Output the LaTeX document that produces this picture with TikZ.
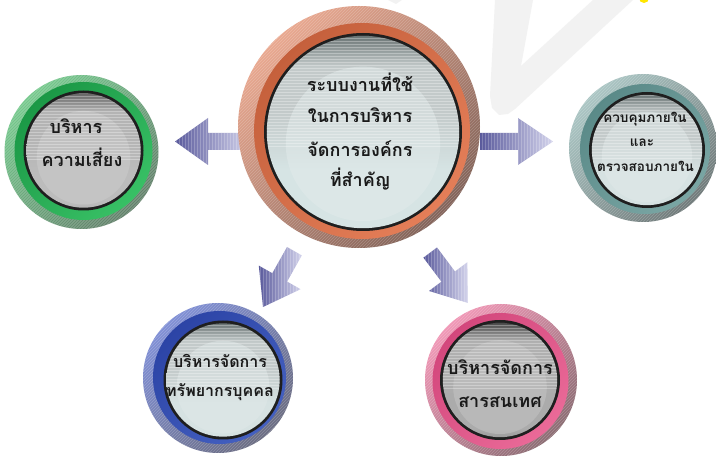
\documentclass[tikz,border=0pt]{standalone}
\usepackage{fontspec}
\newfontfamily\thaifont[Script=Thai]{Loma}
\usetikzlibrary{calc}

\definecolor{wm}{HTML}{F2F2F2}
\definecolor{yel}{HTML}{FFE600}
\definecolor{arD}{HTML}{5A5A9C}
\definecolor{arL}{HTML}{D4D4EC}
\definecolor{txt}{HTML}{1A1A1A}
% central (brown-orange)
\definecolor{cenol}{HTML}{E8A58C}\definecolor{cenom}{HTML}{D08A70}\definecolor{cenod}{HTML}{7E5E54}
\definecolor{cenml}{HTML}{E47E58}\definecolor{cenmd}{HTML}{C5603C}
\definecolor{cenia}{HTML}{6B7575}\definecolor{cenic}{HTML}{C3CACA}\definecolor{cenib}{HTML}{D6E4E4}\definecolor{cenih}{HTML}{E2EBEB}
% green
\definecolor{grnol}{HTML}{74C88C}\definecolor{grnom}{HTML}{52AA6A}\definecolor{grnod}{HTML}{62806A}
\definecolor{grnml}{HTML}{38C065}\definecolor{grnmd}{HTML}{1B9846}
\definecolor{grnia}{HTML}{666666}\definecolor{grnic}{HTML}{B4B4B4}\definecolor{grnib}{HTML}{BCBCBC}\definecolor{grnih}{HTML}{CDCDCD}
% teal
\definecolor{teaol}{HTML}{A8C4C2}\definecolor{teaom}{HTML}{88A6A4}\definecolor{teaod}{HTML}{6C7676}
\definecolor{teaml}{HTML}{7AA6A4}\definecolor{teamd}{HTML}{5A8A88}
\definecolor{teaia}{HTML}{6B7575}\definecolor{teaic}{HTML}{C3CACA}\definecolor{teaib}{HTML}{D6E2E2}\definecolor{teaih}{HTML}{E0E8E8}
% blue
\definecolor{bluol}{HTML}{7C8CD4}\definecolor{bluom}{HTML}{5C6EBE}\definecolor{bluod}{HTML}{66687E}
\definecolor{bluml}{HTML}{4460C0}\definecolor{blumd}{HTML}{2C44A6}
\definecolor{bluia}{HTML}{6B7575}\definecolor{bluic}{HTML}{C3CACA}\definecolor{bluib}{HTML}{D6E2E2}\definecolor{bluih}{HTML}{E0E8E8}
% pink
\definecolor{pnkol}{HTML}{F094B4}\definecolor{pnkom}{HTML}{E07098}\definecolor{pnkod}{HTML}{88686F}
\definecolor{pnkml}{HTML}{EA6A98}\definecolor{pnkmd}{HTML}{D3477C}
\definecolor{pnkia}{HTML}{4A4A4A}\definecolor{pnkic}{HTML}{B0B0B0}\definecolor{pnkib}{HTML}{ABABAB}\definecolor{pnkih}{HTML}{C6C6C6}

\pgfdeclareverticalshading{innercen}{100bp}{color(0bp)=(cenib); color(40bp)=(cenib); color(55bp)=(cenic); color(67bp)=(cenic); color(75bp)=(cenia); color(100bp)=(cenia)}
\pgfdeclareverticalshading{innergrn}{100bp}{color(0bp)=(grnia); color(27bp)=(grnib); color(40bp)=(grnib); color(55bp)=(grnic); color(67bp)=(grnic); color(75bp)=(grnia); color(100bp)=(grnia)}
\pgfdeclareverticalshading{innertea}{100bp}{color(0bp)=(teaib); color(40bp)=(teaib); color(55bp)=(teaic); color(67bp)=(teaic); color(75bp)=(teaia); color(100bp)=(teaia)}
\pgfdeclareverticalshading{innerblu}{100bp}{color(0bp)=(bluib); color(40bp)=(bluib); color(55bp)=(bluic); color(67bp)=(bluic); color(75bp)=(bluia); color(100bp)=(bluia)}
\pgfdeclareverticalshading{innerpnk}{100bp}{color(0bp)=(pnkia); color(29bp)=(pnkib); color(40bp)=(pnkib); color(55bp)=(pnkic); color(67bp)=(pnkic); color(75bp)=(pnkia); color(100bp)=(pnkia)}

\tikzset{
  hatch/.style={white, line width=0.8pt, draw opacity=0.2},
  stripe/.style={white, line width=1pt, draw opacity=0.3},
  astripe/.style={white, line width=0.8pt, draw opacity=0.22},
  lbl/.style={anchor=base, inner sep=0pt, text=txt, font=\thaifont\bfseries\fontsize{#1}{#1}\selectfont}
}

% #1 outer centre, #2 R, #3 ring centre, #4 ring R, #5 inner centre, #6 inner r, #7 colour prefix
\newcommand\btn[7]{%
  \shade[top color=#7ol, middle color=#7om, bottom color=#7od, shading angle=45] #1 circle[radius=#2];
  \begin{scope}
    \clip #1 circle[radius=#2];
    \foreach \i [evaluate=\i as \s using 3*\i-2*#2] in {0,...,165}
      \draw[hatch] ($#1+(\s-#2,-#2)$) -- ++(2*#2,2*#2);
  \end{scope}
  \shade[top color=#7md, middle color=#7md, bottom color=#7ml, shading angle=45] #3 circle[radius=#4];
  \fill[black!88] #5 circle[radius=#6];
  \begin{scope}
    \clip #5 circle[radius={#6-2.8}];
    \shade[shading=inner#7] #5 circle[radius={#6-2.8}];
    \fill[#7ih, fill opacity=0.5] ($#5+(0,{-0.12*#6})$) circle[radius={0.78*#6}];
    \foreach \i [evaluate=\i as \s using 3*\i-0.15*#6] in {0,...,40}
      \draw[stripe] ($#5+(-#6,\s)$) -- ++(2*#6,0);
  \end{scope}
}
\newcommand\blockarrow[1]{%
  \shade[left color=arD, right color=arL] #1 -- cycle;
  \begin{scope}
    \clip #1 -- cycle;
    \foreach \i in {0,...,50} \draw[astripe] (170+3*\i,150) -- ++(0,200);
    \foreach \i in {0,...,50} \draw[astripe] (410+3*\i,150) -- ++(0,200);
  \end{scope}
}

\begin{document}
\begin{tikzpicture}[x=1pt,y=1pt]
\useasboundingbox (0,0) rectangle (716,461);
\clip (0,0) rectangle (716,461);
\fill[white] (0,0) rectangle (716,461);

% watermark
\fill[wm] (495,461) -- (490,365) -- (492,353) -- (499,346) -- (508,347) -- (515,352)
  -- (633,461) -- (593,461) -- (521,395) -- (533,461) -- cycle;
\fill[wm] (388,461) -- (402,461) -- (396,457) -- cycle;
\fill[yel] (644,463) circle[radius=5];

% arrows
\blockarrow{(175,319.5) -- (208,343) -- (208,328) -- (250,328) -- (250,311) -- (208,311) -- (208,296)}
\blockarrow{(480,328) -- (518,328) -- (518,343) -- (553,319.5) -- (518,296) -- (518,311) -- (480,311)}
\blockarrow{(263,154) -- (300.6,171.8) -- (287.1,179.4) -- (301.8,205.6) -- (287,214) -- (272.3,187.8) -- (258.8,195.4)}
\blockarrow{(468,158) -- (467.4,198.8) -- (455,189.5) -- (437,213.5) -- (423.4,203.3) -- (441.4,179.3) -- (429,170)}

% buttons
\btn{(359,334)}{121}{(362,330)}{108}{(363,329)}{99}{cen}
\btn{(81.5,309)}{77}{(83.5,310)}{69}{(83.5,310.5)}{60}{grn}
\btn{(643,313)}{74}{(645,312)}{65}{(647,311)}{58}{tea}
\btn{(218,83)}{75}{(219.5,83.5)}{66.5}{(223,81)}{59.5}{blu}
\btn{(501,81)}{76}{(500.5,80)}{68}{(500,81)}{60}{pnk}

% texts
\node[lbl=18] (c1) at (360,369) {ระบบงานที่ใช้};
\node[lbl=18] (c2) at (360,338) {ในการบริหาร};
\node[lbl=18] (c3) at (360,304) {จัดการองค์กร};
\node[lbl=18] (c4) at (360,274) {ที่สำคัญ};

\node[lbl=18] (g1) at (76,327) {บริหาร};
\node[lbl=18] (g2) at (82,294) {ความเสี่ยง};

\node[lbl=13.5] (t1) at (645,338) {ควบคุมภายใน};
\node[lbl=13.5] (t2) at (642,314) {และ};
\node[lbl=13.5] (t3) at (645.5,289) {ตรวจสอบภายใน};

\node[lbl=16] (b1) at (220,93) {บริหารจัดการ};
\node[lbl=16] (b2) at (220,64) {ทรัพยากรบุคคล};

\node[lbl=18] (p1) at (500,86) {บริหารจัดการ};
\node[lbl=18] (p2) at (500,53) {สารสนเทศ};
\end{tikzpicture}
\end{document}
